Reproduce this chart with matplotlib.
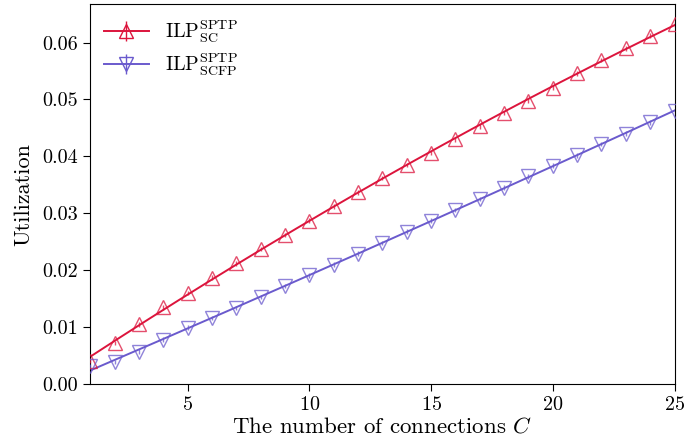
import numpy as np
import matplotlib
matplotlib.use("Agg")
import matplotlib.pyplot as plt

plt.rcParams['font.family'] = 'serif'
plt.rcParams['font.serif'] = ['cmr10']
plt.rcParams['mathtext.fontset'] = 'cm'
plt.rcParams['axes.formatter.use_mathtext'] = True

C = np.arange(1, 26)
sc = [0.0041, 0.0072, 0.0105, 0.0135, 0.0160, 0.0187, 0.0212, 0.0237, 0.0262, 0.0287,
      0.0312, 0.0337, 0.0362, 0.0385, 0.0406, 0.0430, 0.0453, 0.0476, 0.0498, 0.0521,
      0.0546, 0.0569, 0.0590, 0.0612, 0.0632]
scfp = [0.0031, 0.0039, 0.0057, 0.0078, 0.0099, 0.0116, 0.0134, 0.0153, 0.0172, 0.0191,
        0.0210, 0.0229, 0.0248, 0.0268, 0.0287, 0.0306, 0.0325, 0.0345, 0.0365, 0.0384,
        0.0402, 0.0422, 0.0440, 0.0460, 0.0480]
sc_err = [0.0004] * 25
scfp_err = [0.0004] * 25

red = '#DC143C'
blue = '#6A5ACD'

fig = plt.figure(figsize=(6.99, 4.44), dpi=100)
ax = fig.add_axes([0.129, 0.135, 0.836, 0.855])

xs = np.linspace(1, 25, 200)
for y, err, col, mk in [(sc, sc_err, red, '^'), (scfp, scfp_err, blue, 'v')]:
    p = np.polyfit(C, y, 2)
    ax.plot(xs, np.polyval(p, xs), color=col, lw=1.4, zorder=2)
    ax.errorbar(C, y, yerr=err, fmt=mk, color=col, mfc='none', mec=col, ms=10,
                mew=1.0, elinewidth=1.0, alpha=0.75, zorder=3)

handles = []
for col, mk in [(red, '^'), (blue, 'v')]:
    handles.append(ax.errorbar([np.nan], [np.nan], yerr=[0.001], fmt='-' + mk, color=col,
                               mfc='none', ms=10, lw=1.4, elinewidth=1.0))
ax.legend(handles, [r'ILP$^{\rm SPTP}_{\rm SC}$', r'ILP$^{\rm SPTP}_{\rm SCFP}$'],
          loc='upper left', frameon=False, fontsize=14.5, handlelength=2.2,
          borderaxespad=0.3, labelspacing=0.3)

ax.set_xlim(1, 25)
ax.set_ylim(0, 0.0667)
ax.set_xticks([5, 10, 15, 20, 25])
ax.set_yticks([0.0, 0.01, 0.02, 0.03, 0.04, 0.05, 0.06])
ax.set_yticklabels(['0.00', '0.01', '0.02', '0.03', '0.04', '0.05', '0.06'])
ax.tick_params(labelsize=14.5, direction='out', length=5)
ax.set_xlabel(r'The number of connections $C$', fontsize=16.5, labelpad=2)
ax.set_ylabel('Utilization', fontsize=16, labelpad=7)

fig.savefig('out.png', dpi=100)
